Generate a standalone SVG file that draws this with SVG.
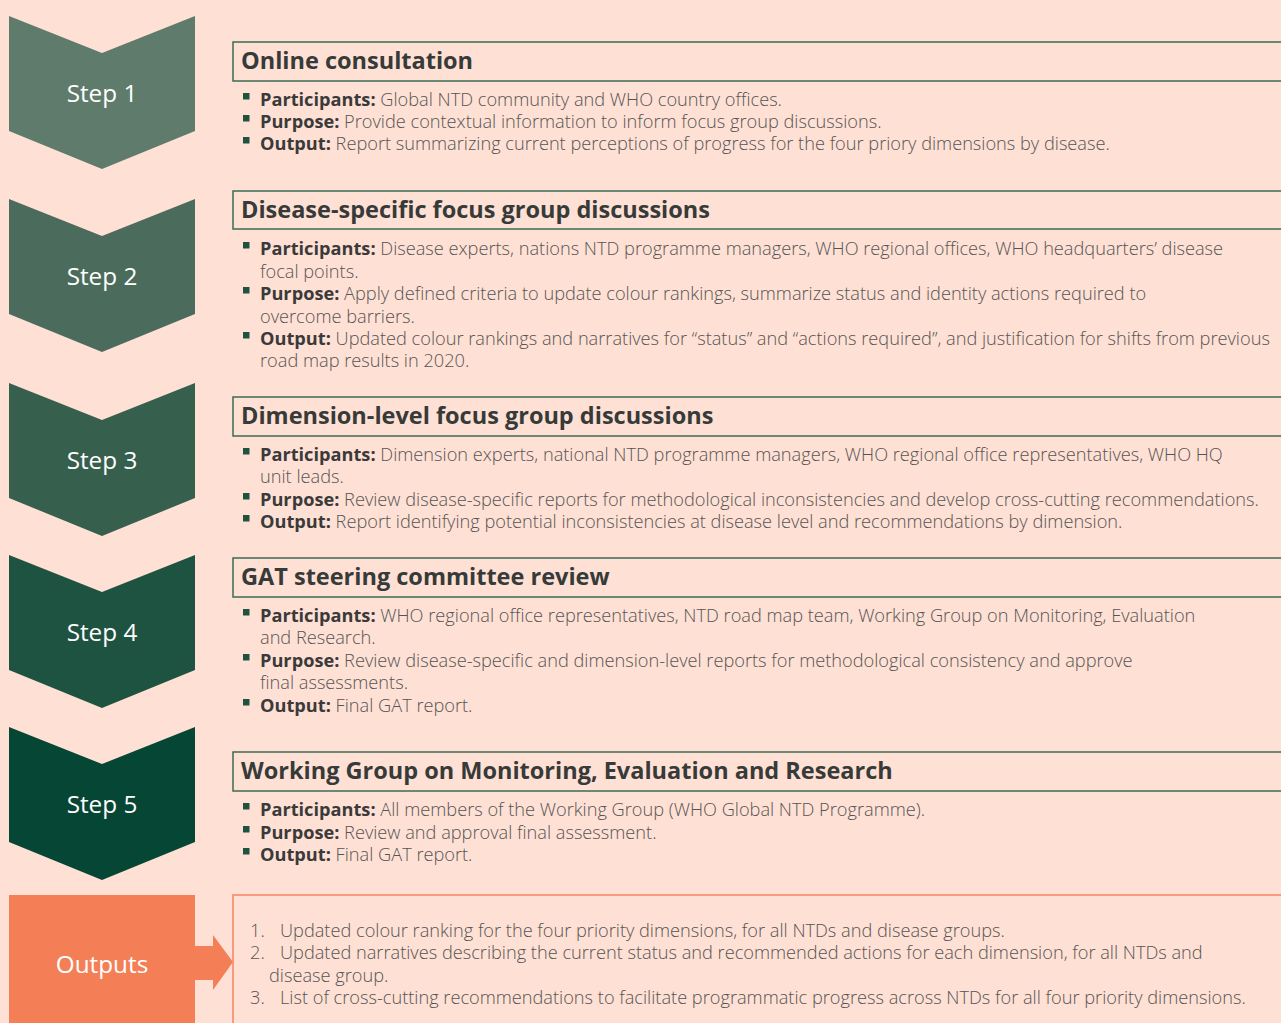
<svg xmlns="http://www.w3.org/2000/svg" width="1281" height="1023" viewBox="0 0 1281 1023">
<style>
.step{font-family:"Open Sans","Noto Sans",sans-serif;font-size:24.3px;fill:#ffffff;text-anchor:middle}
.hbox{fill:none;stroke:#3d6b55;stroke-width:1.5}
.htxt{font-family:"Open Sans","Noto Sans",sans-serif;font-size:23.5px;font-weight:700;fill:#363a38}
.body{font-family:"Open Sans","Noto Sans",sans-serif;font-size:18.2px;font-weight:300;fill:#555555}
.b{font-weight:700;fill:#3a3a3a}
.bul{fill:#1f5340}
</style>
<defs>
<path id="chev" d="M0,0 L93,37 L186,0 L186,115 L93,153 L0,115 Z"/>
<rect id="sq" width="6.5" height="6.5"/>
</defs>
<rect width="1281" height="1023" fill="#ffe0d4"/>

<g id="step1">
<use href="#chev" x="9" y="16" fill="#5f7b6c"/>
<text class="step" x="102" y="102">Step 1</text>
</g>
<g id="step2">
<use href="#chev" x="9" y="199" fill="#4b6c5d"/>
<text class="step" x="102" y="285">Step 2</text>
</g>
<g id="step3">
<use href="#chev" x="9" y="383" fill="#365f4e"/>
<text class="step" x="102" y="469">Step 3</text>
</g>
<g id="step4">
<use href="#chev" x="9" y="555" fill="#1e5341"/>
<text class="step" x="102" y="641">Step 4</text>
</g>
<g id="step5">
<use href="#chev" x="9" y="727" fill="#054634"/>
<text class="step" x="102" y="813">Step 5</text>
</g>
<g id="outputs">
<rect x="9" y="895" width="186" height="130" fill="#f47f57"/>
<text class="step" x="102" y="973">Outputs</text>
</g>

<g id="connectors">
<path d="M195,946 L213,946 L213,935 L233,962 L213,990 L213,980 L195,980 Z" fill="#f47f57"/>
</g>

<g id="box1">
<rect class="hbox" x="233" y="42" width="1060" height="39"/>
<text class="htxt" x="241" y="69">Online consultation</text>
<g class="bul"><use href="#sq" x="243" y="93"/><use href="#sq" x="243" y="115"/><use href="#sq" x="243" y="137"/></g>
<text class="body" x="260" y="106"><tspan class="b">Participants:</tspan> Global NTD community and WHO country offices.</text>
<text class="body" x="260" y="128"><tspan class="b">Purpose:</tspan> Provide contextual information to inform focus group discussions.</text>
<text class="body" x="260" y="150"><tspan class="b">Output:</tspan> Report summarizing current perceptions of progress for the four priory dimensions by disease.</text>
</g>

<g id="box2">
<rect class="hbox" x="233" y="191" width="1060" height="38"/>
<text class="htxt" x="241" y="218">Disease-specific focus group discussions</text>
<g class="bul"><use href="#sq" x="243" y="242"/><use href="#sq" x="243" y="287"/><use href="#sq" x="243" y="332"/></g>
<text class="body" x="260" y="255"><tspan class="b">Participants:</tspan> Disease experts, nations NTD programme managers, WHO regional offices, WHO headquarters’ disease</text>
<text class="body" x="260" y="278">focal points.</text>
<text class="body" x="260" y="300"><tspan class="b">Purpose:</tspan> Apply defined criteria to update colour rankings, summarize status and identity actions required to</text>
<text class="body" x="260" y="323">overcome barriers.</text>
<text class="body" x="260" y="345"><tspan class="b">Output:</tspan> Updated colour rankings and narratives for “status” and “actions required”, and justification for shifts from previous</text>
<text class="body" x="260" y="367">road map results in 2020.</text>
</g>

<g id="box3">
<rect class="hbox" x="233" y="397" width="1060" height="39"/>
<text class="htxt" x="241" y="424">Dimension-level focus group discussions</text>
<g class="bul"><use href="#sq" x="243" y="448"/><use href="#sq" x="243" y="493"/><use href="#sq" x="243" y="515"/></g>
<text class="body" x="260" y="461"><tspan class="b">Participants:</tspan> Dimension experts, national NTD programme managers, WHO regional office representatives, WHO HQ</text>
<text class="body" x="260" y="483">unit leads.</text>
<text class="body" x="260" y="506"><tspan class="b">Purpose:</tspan> Review disease-specific reports for methodological inconsistencies and develop cross-cutting recommendations.</text>
<text class="body" x="260" y="528"><tspan class="b">Output:</tspan> Report identifying potential inconsistencies at disease level and recommendations by dimension.</text>
</g>

<g id="box4">
<rect class="hbox" x="233" y="558" width="1060" height="39"/>
<text class="htxt" x="241" y="585">GAT steering committee review</text>
<g class="bul"><use href="#sq" x="243" y="609"/><use href="#sq" x="243" y="654"/><use href="#sq" x="243" y="699"/></g>
<text class="body" x="260" y="622"><tspan class="b">Participants:</tspan> WHO regional office representatives, NTD road map team, Working Group on Monitoring, Evaluation</text>
<text class="body" x="260" y="644">and Research.</text>
<text class="body" x="260" y="667"><tspan class="b">Purpose:</tspan> Review disease-specific and dimension-level reports for methodological consistency and approve</text>
<text class="body" x="260" y="689">final assessments.</text>
<text class="body" x="260" y="712"><tspan class="b">Output:</tspan> Final GAT report.</text>
</g>

<g id="box5">
<rect class="hbox" x="233" y="752" width="1060" height="39"/>
<text class="htxt" x="241" y="779">Working Group on Monitoring, Evaluation and Research</text>
<g class="bul"><use href="#sq" x="243" y="803"/><use href="#sq" x="243" y="826"/><use href="#sq" x="243" y="848"/></g>
<text class="body" x="260" y="816"><tspan class="b">Participants:</tspan> All members of the Working Group (WHO Global NTD Programme).</text>
<text class="body" x="260" y="839"><tspan class="b">Purpose:</tspan> Review and approval final assessment.</text>
<text class="body" x="260" y="861"><tspan class="b">Output:</tspan> Final GAT report.</text>
</g>

<g id="box6">
<rect x="233" y="895" width="1060" height="140" fill="none" stroke="#f4845f" stroke-width="1.5"/>
<text class="body" x="250" y="937">1.</text>
<text class="body" x="280" y="937">Updated colour ranking for the four priority dimensions, for all NTDs and disease groups.</text>
<text class="body" x="250" y="959">2.</text>
<text class="body" x="280" y="959">Updated narratives describing the current status and recommended actions for each dimension, for all NTDs and</text>
<text class="body" x="269" y="982">disease group.</text>
<text class="body" x="250" y="1004">3.</text>
<text class="body" x="280" y="1004">List of cross-cutting recommendations to facilitate programmatic progress across NTDs for all four priority dimensions.</text>
</g>
</svg>
